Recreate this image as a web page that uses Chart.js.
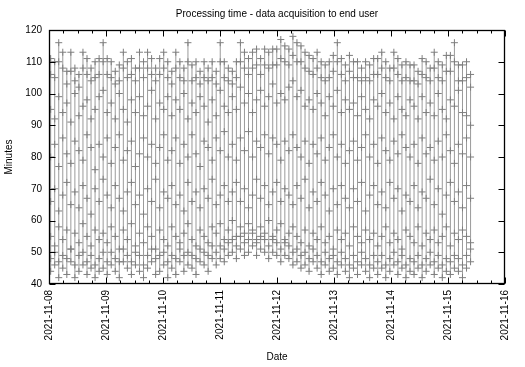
<!DOCTYPE html>
<html>
<head>
<meta charset="utf-8">
<script src="https://cdn.jsdelivr.net/npm/chart.js@4.4.1/dist/chart.umd.min.js"></script>
<style>
  html, body { margin: 0; padding: 0; background: #fff; }
  canvas { display: block; }
</style>
</head>
<body>
<canvas id="chart" width="525" height="367"></canvas>
<script>
// hours since 2021-11-08 00:00 of each acquisition
const acqHours = [
  0.7, 2.4, 4.1, 5.8, 7.5, 9.2, 10.9, 12.6, 14.3, 16.0, 17.7, 19.4, 21.1, 22.8, 24.5,
  26.2, 27.9, 29.6, 31.3, 33.0, 34.7, 36.4, 38.1, 39.8, 41.5, 43.2, 44.9, 46.6, 48.3, 50.0,
  51.7, 53.4, 55.1, 56.8, 58.5, 60.2, 61.9, 63.6, 65.3, 67.0, 68.7, 70.4, 72.1, 73.8, 75.5,
  77.2, 78.9, 80.6, 82.3, 84.0, 85.7, 87.4, 89.1, 90.8, 92.5, 94.2, 95.9, 97.6, 99.3, 101.0,
  102.7, 104.4, 106.1, 107.8, 109.5, 111.2, 112.9, 114.6, 116.3, 118.0, 119.7, 121.4, 123.1, 124.8, 126.5,
  128.2, 129.9, 131.6, 133.3, 135.0, 136.7, 138.4, 140.1, 141.8, 143.5, 145.2, 146.9, 148.6, 150.3, 152.0,
  153.7, 155.4, 157.1, 158.8, 160.5, 162.2, 163.9, 165.6, 167.3, 169.0, 170.7, 172.4, 174.1, 175.8, 177.5
];

// processing times (minutes) per acquisition, from fastest to slowest product
const fastest = [
  44,46,42,45,43,47,42,44,46,43,45,42,44,45,43,
  46,44,42,47,45,43,46,44,42,45,47,43,44,46,42,
  45,43,47,44,46,45,43,47,46,44,48,46,48,47,49,
  50,48,51,49,50,52,49,51,50,48,50,49,47,49,48,
  46,47,45,46,44,47,45,43,46,44,45,43,46,44,42,
  45,43,46,44,42,45,43,45,42,44,46,43,45,42,44,
  43,45,42,44,46,43,45,42,44,43,45,44,42,45,47
];
const nearFastest = [
  48,50,47,49,48,51,46,49,50,47,49,46,48,50,47,
  50,48,47,51,49,47,50,49,46,49,51,48,49,50,47,
  49,48,51,49,50,49,48,51,50,49,52,50,52,51,53,
  54,52,55,53,54,56,53,55,54,52,54,53,51,53,52,
  50,51,49,50,48,51,49,47,50,48,49,47,50,48,46,
  49,47,50,48,46,49,47,49,46,48,50,47,49,46,48,
  47,49,46,48,50,47,49,46,48,47,49,48,46,49,51
];
const midA = [
  55,52,58,54,57,51,56,53,59,55,52,57,54,56,53,
  58,55,51,57,54,59,52,56,53,58,55,51,57,54,52,
  58,55,53,56,59,54,52,57,55,53,58,56,59,54,57,
  60,55,58,56,59,57,54,58,56,60,55,57,59,54,56,
  58,55,53,57,52,56,54,58,53,55,51,57,54,56,52,
  58,55,53,57,54,56,52,55,58,53,56,54,51,57,55,
  53,58,52,56,54,57,53,55,58,52,56,54,57,55,53
];
const midB = [
  66,70,63,68,72,65,69,64,71,67,62,70,66,73,68,
  64,71,67,63,69,72,65,68,62,70,66,73,64,69,67,
  71,65,68,63,72,66,69,64,70,67,73,65,68,71,66,
  69,72,66,70,64,68,73,67,71,65,69,72,66,70,68,
  65,71,67,73,64,69,66,72,68,63,70,65,71,67,64,
  70,66,72,63,68,71,65,69,64,72,67,70,63,68,66,
  71,64,69,67,73,65,70,62,68,72,66,69,64,71,67
];
const midC = [
  80,84,77,86,81,78,85,82,79,87,83,76,84,80,86,
  78,83,87,79,82,85,77,81,86,80,84,78,83,87,79,
  82,86,78,84,80,87,81,77,85,83,79,86,82,88,80,
  84,79,86,82,88,80,85,83,87,81,86,84,79,85,82,
  87,83,80,85,78,84,81,86,79,83,87,80,84,78,82,
  85,79,83,87,80,84,78,86,82,79,85,81,87,83,80,
  84,78,86,81,83,79,85,80,87,82,78,84,81,86,80
];
const midD = [
  95,92,99,94,97,91,100,93,96,98,92,95,99,101,94,
  97,92,100,95,91,98,94,99,93,96,101,92,97,95,99,
  93,98,95,100,92,97,94,99,96,91,98,93,101,96,94,
  99,95,102,97,100,94,98,101,96,99,103,97,100,98,102,
  104,99,101,96,98,95,100,97,93,99,96,101,94,98,95,
  97,93,99,95,92,98,96,100,94,97,92,99,95,93,98,
  96,92,99,94,97,93,100,95,92,98,96,101,94,93,90
];
const nearSlowest = [
  106,105,110,108,103,107,104,102,108,106,104,105,106,110,106,
  105,103,104,108,105,106,104,108,105,108,106,104,106,108,105,
  103,108,105,104,110,104,105,103,105,104,105,103,110,105,104,
  103,105,110,108,106,108,109,106,109,108,109,109,111,110,109,
  112,110,110,108,107,106,108,105,104,105,107,110,106,104,107,
  105,105,104,105,104,106,106,108,105,104,108,106,104,105,104,
  104,103,106,105,104,108,105,104,107,107,110,104,104,105,102
];
const slowest = [
  111,110,116,113,107,113,108,106,113,111,108,110,111,116,111,
  110,107,109,113,110,111,108,113,110,113,111,108,111,113,110,
  107,113,110,108,116,109,110,107,110,108,110,107,116,110,108,
  107,110,116,113,111,113,114,111,114,113,114,114,117,115,114,
  118,116,115,113,112,111,113,110,109,110,112,116,111,109,112,
  110,110,108,110,109,111,111,113,110,108,113,111,109,110,109,
  109,107,111,110,108,113,110,109,112,112,116,109,109,110,106
];

const dayLabels = ['2021-11-08','2021-11-09','2021-11-10','2021-11-11','2021-11-12',
                   '2021-11-13','2021-11-14','2021-11-15','2021-11-16'];
const yTicks = [40, 50, 60, 70, 80, 90, 100, 110, 120];

// every acquisition is its own vertical run of points; a null breaks the line between them
const points = [];
acqHours.forEach((h, i) => {
  [fastest, nearFastest, midA, midB, midC, midD, nearSlowest, slowest]
    .forEach(arr => points.push({ x: h, y: arr[i] }));
  points.push({ x: h, y: null });
});

const FONT = 'Liberation Sans, Arial, Helvetica, sans-serif';

// gnuplot style frame with inward, mirrored ticks
const framePlugin = {
  id: 'frame',
  afterDatasetsDraw(chart) {
    const { ctx, chartArea: a, scales: { x, y } } = chart;
    const L = Math.round(a.left) + 0.5, R = Math.round(a.right) - 0.5;
    const T = Math.round(a.top) + 0.5, B = Math.round(a.bottom) - 0.5;
    ctx.save();
    ctx.strokeStyle = '#000';
    ctx.lineWidth = 1;
    ctx.beginPath();
    for (let h = 0; h <= 192; h += 6) {
      const px = Math.round(x.getPixelForValue(h)) + 0.5;
      const len = h % 24 === 0 ? 6 : 3;
      ctx.moveTo(px, B); ctx.lineTo(px, B - len);
      ctx.moveTo(px, T); ctx.lineTo(px, T + len);
    }
    yTicks.forEach(v => {
      const py = Math.round(y.getPixelForValue(v)) + 0.5;
      ctx.moveTo(L, py); ctx.lineTo(L + 6, py);
      ctx.moveTo(R, py); ctx.lineTo(R - 6, py);
    });
    ctx.stroke();
    ctx.lineWidth = 1.3;
    ctx.strokeRect(L, T, R - L, B - T);
    ctx.restore();
  }
};

new Chart(document.getElementById('chart'), {
  type: 'scatter',
  data: {
    datasets: [{
      data: points,
      showLine: true,
      spanGaps: false,
      borderColor: '#9a9a9a',
      borderWidth: 1,
      pointStyle: 'cross',
      pointRadius: 3.5,
      pointBorderColor: '#7e7e7e',
      pointBorderWidth: 1,
      pointBackgroundColor: '#7e7e7e'
    }]
  },
  options: {
    responsive: false,
    animation: false,
    layout: { padding: { right: 20, left: 0, top: 0, bottom: 0 } },
    plugins: {
      legend: { display: false },
      tooltip: { enabled: false },
      title: {
        display: true,
        fullSize: false,
        text: 'Processing time - data acquisition to end user',
        color: '#000',
        font: { family: FONT, size: 10, weight: 'normal' },
        padding: { top: 8, bottom: 10 }
      }
    },
    scales: {
      x: {
        type: 'linear',
        min: 0,
        max: 192,
        grid: { display: false, drawTicks: false },
        border: { display: false },
        afterFit: s => { s.height = 83; },
        ticks: {
          stepSize: 24,
          autoSkip: false,
          maxRotation: 90,
          minRotation: 90,
          padding: 6,
          color: '#000',
          font: { family: FONT, size: 10 },
          callback: v => dayLabels[v / 24]
        },
        title: {
          display: true,
          text: 'Date',
          color: '#000',
          font: { family: FONT, size: 10 },
          padding: { top: 0, bottom: 4 }
        }
      },
      y: {
        min: 40,
        max: 120,
        grid: { display: false, drawTicks: false },
        border: { display: false },
        afterFit: s => { s.width = 49; },
        afterBuildTicks: s => { s.ticks = yTicks.map(v => ({ value: v })); },
        ticks: {
          padding: 7,
          color: '#000',
          font: { family: FONT, size: 10 }
        },
        title: {
          display: true,
          text: 'Minutes',
          color: '#000',
          font: { family: FONT, size: 10 },
          padding: { top: 3, bottom: 0 }
        }
      }
    }
  },
  plugins: [framePlugin]
});
</script>
</body>
</html>
